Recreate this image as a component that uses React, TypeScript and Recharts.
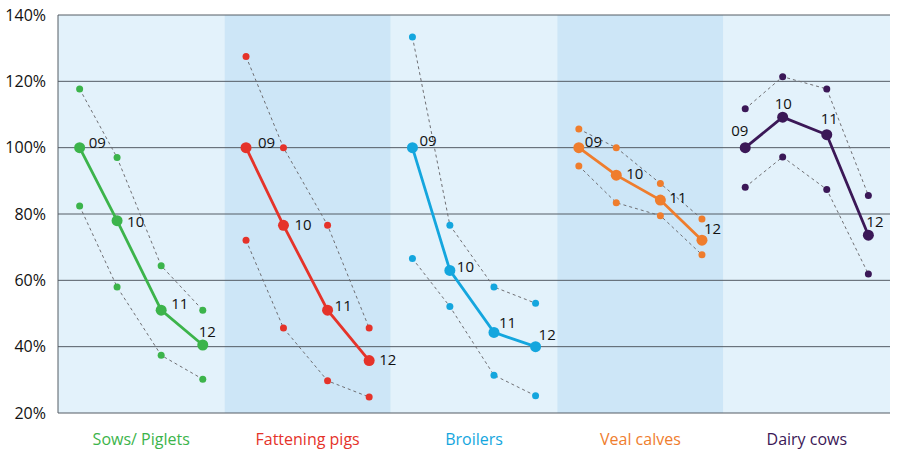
import { LineChart, Line, XAxis, YAxis, ReferenceArea, ReferenceLine, LabelList } from 'recharts'

// categories and years
const CATEGORIES = ['Sows/ Piglets', 'Fattening pigs', 'Broilers', 'Veal calves', 'Dairy cows']
const YEARS = ['09', '10', '11', '12']
const Y_TICKS = [20, 40, 60, 80, 100, 120, 140]

// index values (%), one row per category, one value per year
const MAIN = [
  [100, 78, 51, 40.5],
  [100, 76.6, 51, 35.8],
  [100, 63, 44.3, 40],
  [100, 91.7, 84.2, 72.1],
  [100, 109.2, 103.9, 73.6],
]
const UPPER = [
  [117.7, 97, 64.4, 51],
  [127.5, 100, 76.6, 45.6],
  [133.4, 76.6, 58, 53.1],
  [105.6, 100, 89.2, 78.5],
  [111.7, 121.4, 117.7, 85.6],
]
const LOWER = [
  [82.4, 58, 37.4, 30.2],
  [72.1, 45.6, 29.7, 24.8],
  [66.6, 52.1, 31.4, 25.2],
  [94.5, 83.4, 79.5, 67.7],
  [88.1, 97.2, 87.4, 61.9],
]

// styling / layout
const COLORS = ['#3cb44b', '#e5332a', '#14a6de', '#ef7d2d', '#3b1857']
const PANEL_FILLS = ['#e3f2fb', '#cde6f7']
const GRID = '#545c64'
const FONT = '"Open Sans", sans-serif'
const YEAR_POS = [0.13, 0.355, 0.62, 0.87]
const LABEL_OFFSETS = [
  [[9, 0], [10, 6.5], [10, -1.5], [-4, -8.5]],
  [[12, 0.5], [11, 4.5], [7, 0.5], [10, 4.5]],
  [[7, -1.5], [7, 1.5], [5, -4.5], [3, -6.5]],
  [[6, -0.5], [10, 3.5], [9, 2.5], [2, -6.5]],
  [[-14, -11.5], [-8, -8.5], [-6, -10.5], [-2, -8.5]],
]

const toPoints = (vals: number[], g: number) =>
  vals.map((v, i) => ({ x: g + YEAR_POS[i], v, year: YEARS[i] }))

const CategoryTick = (props: any) => {
  const { x, y, payload } = props
  const i = Math.floor(payload.value)
  return (
    <text x={x} y={y + 24} textAnchor="middle" fill={COLORS[i]} fontSize={16} fontFamily={FONT}>
      {CATEGORIES[i]}
    </text>
  )
}

export default function App() {
  return (
    <div style={{ position: 'absolute', left: 0, top: 0 }}>
      <LineChart width={903} height={464} margin={{ top: 15, right: 13, left: 0, bottom: 0 }}>
        <XAxis
          dataKey="x"
          type="number"
          domain={[0, 5]}
          ticks={[0.5, 1.5, 2.5, 3.5, 4.5]}
          tick={<CategoryTick />}
          tickLine={false}
          axisLine={{ stroke: GRID }}
          height={51}
          allowDuplicatedCategory={false}
        />
        <YAxis
          type="number"
          domain={[20, 140]}
          ticks={Y_TICKS}
          tickFormatter={(v) => `${v}%`}
          tickLine={false}
          tickSize={0}
          tickMargin={12}
          axisLine={{ stroke: GRID }}
          width={58}
          tick={{ fill: '#111', fontSize: 16, fontFamily: FONT }}
        />
        {CATEGORIES.map((c, g) => (
          <ReferenceArea key={c} x1={g} x2={g + 1} y1={20} y2={140} fill={PANEL_FILLS[g % 2]} fillOpacity={1} stroke="none" />
        ))}
        {Y_TICKS.slice(1).map(t => (
          <ReferenceLine key={t} y={t} stroke={GRID} strokeWidth={1} />
        ))}
        {CATEGORIES.map((c, g) => [UPPER[g], LOWER[g]].map((vals, k) => (
          <Line
            key={`${c}-d${k}`}
            data={toPoints(vals, g)}
            dataKey="v"
            type="linear"
            stroke="#6f6f73"
            strokeWidth={1}
            strokeDasharray="3 3"
            dot={{ r: 3.5, fill: COLORS[g], stroke: 'none' }}
            isAnimationActive={false}
          />
        )))}
        {CATEGORIES.map((c, g) => (
          <Line
            key={`${c}-main`}
            data={toPoints(MAIN[g], g)}
            dataKey="v"
            type="linear"
            stroke={COLORS[g]}
            strokeWidth={2.8}
            dot={{ r: 5.5, fill: COLORS[g], stroke: 'none' }}
            isAnimationActive={false}
          >
            <LabelList
              dataKey="year"
              content={(p: any) => {
                const [dx, dy] = LABEL_OFFSETS[g][p.index]
                return (
                  <text x={p.x + dx} y={p.y + dy} fontSize={15} fontFamily={FONT} fill="#111">
                    {p.value}
                  </text>
                )
              }}
            />
          </Line>
        ))}
      </LineChart>
    </div>
  )
}
